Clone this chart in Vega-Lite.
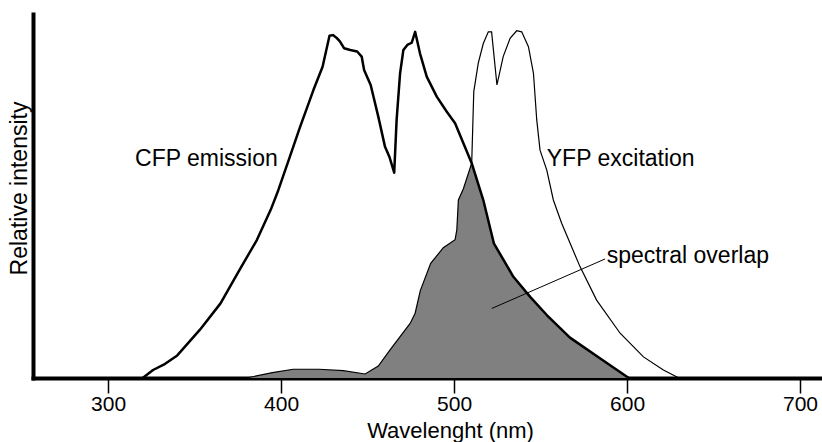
{
  "$schema": "https://vega.github.io/schema/vega-lite/v6.json",
  "width": 789,
  "height": 364,
  "autosize": "none",
  "padding": {"left": 33, "top": 14, "right": 0, "bottom": 64},
  "background": "white",
  "config": {
    "view": {"stroke": null},
    "font": "Liberation Sans",
    "axis": {"grid": false, "domainColor": "black", "domainWidth": 4, "domainCap": "square", "titleFont": "Liberation Sans", "titleFontWeight": "normal", "titleColor": "black", "titleFontSize": 22, "labelFont": "Liberation Sans", "labelColor": "black", "labelFontSize": 21}
  },
  "datasets": {
    "spectra": [
      {"series": "CFP", "wavelength": 320, "intensity": 0},
      {"series": "CFP", "wavelength": 326, "intensity": 0.022},
      {"series": "CFP", "wavelength": 333, "intensity": 0.039},
      {"series": "CFP", "wavelength": 340, "intensity": 0.062},
      {"series": "CFP", "wavelength": 353, "intensity": 0.132},
      {"series": "CFP", "wavelength": 365, "intensity": 0.205},
      {"series": "CFP", "wavelength": 376, "intensity": 0.297},
      {"series": "CFP", "wavelength": 386, "intensity": 0.379},
      {"series": "CFP", "wavelength": 394, "intensity": 0.462},
      {"series": "CFP", "wavelength": 398.4, "intensity": 0.516},
      {"series": "CFP", "wavelength": 405, "intensity": 0.607},
      {"series": "CFP", "wavelength": 411, "intensity": 0.69},
      {"series": "CFP", "wavelength": 418.7, "intensity": 0.791},
      {"series": "CFP", "wavelength": 424, "intensity": 0.855},
      {"series": "CFP", "wavelength": 428, "intensity": 0.94},
      {"series": "CFP", "wavelength": 430, "intensity": 0.942},
      {"series": "CFP", "wavelength": 432, "intensity": 0.935},
      {"series": "CFP", "wavelength": 434, "intensity": 0.925},
      {"series": "CFP", "wavelength": 436.4, "intensity": 0.906},
      {"series": "CFP", "wavelength": 440, "intensity": 0.901},
      {"series": "CFP", "wavelength": 444, "intensity": 0.897},
      {"series": "CFP", "wavelength": 446.6, "intensity": 0.883},
      {"series": "CFP", "wavelength": 448, "intensity": 0.846},
      {"series": "CFP", "wavelength": 451.8, "intensity": 0.805},
      {"series": "CFP", "wavelength": 456.2, "intensity": 0.718},
      {"series": "CFP", "wavelength": 460.1, "intensity": 0.635},
      {"series": "CFP", "wavelength": 462.6, "intensity": 0.608},
      {"series": "CFP", "wavelength": 465.4, "intensity": 0.564},
      {"series": "CFP", "wavelength": 466.8, "intensity": 0.709},
      {"series": "CFP", "wavelength": 468.8, "intensity": 0.837},
      {"series": "CFP", "wavelength": 470.7, "intensity": 0.901},
      {"series": "CFP", "wavelength": 473, "intensity": 0.915},
      {"series": "CFP", "wavelength": 475.5, "intensity": 0.921},
      {"series": "CFP", "wavelength": 477.5, "intensity": 0.951},
      {"series": "CFP", "wavelength": 480.3, "intensity": 0.892},
      {"series": "CFP", "wavelength": 484.2, "intensity": 0.828},
      {"series": "CFP", "wavelength": 490, "intensity": 0.773},
      {"series": "CFP", "wavelength": 495.7, "intensity": 0.732},
      {"series": "CFP", "wavelength": 500.6, "intensity": 0.7},
      {"series": "CFP", "wavelength": 505.4, "intensity": 0.645},
      {"series": "CFP", "wavelength": 510.2, "intensity": 0.59},
      {"series": "CFP", "wavelength": 516.9, "intensity": 0.489},
      {"series": "CFP", "wavelength": 523, "intensity": 0.37},
      {"series": "CFP", "wavelength": 534.3, "intensity": 0.278},
      {"series": "CFP", "wavelength": 544, "intensity": 0.223},
      {"series": "CFP", "wavelength": 553.6, "intensity": 0.173},
      {"series": "CFP", "wavelength": 567, "intensity": 0.111},
      {"series": "CFP", "wavelength": 586, "intensity": 0.049},
      {"series": "CFP", "wavelength": 601, "intensity": 0},
      {"series": "YFP", "wavelength": 380, "intensity": 0},
      {"series": "YFP", "wavelength": 395, "intensity": 0.015},
      {"series": "YFP", "wavelength": 407, "intensity": 0.024},
      {"series": "YFP", "wavelength": 422, "intensity": 0.024},
      {"series": "YFP", "wavelength": 436, "intensity": 0.02},
      {"series": "YFP", "wavelength": 448.6, "intensity": 0.011},
      {"series": "YFP", "wavelength": 456.2, "intensity": 0.033},
      {"series": "YFP", "wavelength": 463, "intensity": 0.077},
      {"series": "YFP", "wavelength": 474.6, "intensity": 0.15},
      {"series": "YFP", "wavelength": 477.5, "intensity": 0.178},
      {"series": "YFP", "wavelength": 480.5, "intensity": 0.24},
      {"series": "YFP", "wavelength": 486.5, "intensity": 0.315},
      {"series": "YFP", "wavelength": 493.8, "intensity": 0.358},
      {"series": "YFP", "wavelength": 500.6, "intensity": 0.38},
      {"series": "YFP", "wavelength": 501.6, "intensity": 0.407},
      {"series": "YFP", "wavelength": 502.5, "intensity": 0.489},
      {"series": "YFP", "wavelength": 505.4, "intensity": 0.52},
      {"series": "YFP", "wavelength": 510.2, "intensity": 0.59},
      {"series": "YFP", "wavelength": 511.4, "intensity": 0.787},
      {"series": "YFP", "wavelength": 514, "intensity": 0.865},
      {"series": "YFP", "wavelength": 516.9, "intensity": 0.919},
      {"series": "YFP", "wavelength": 519.8, "intensity": 0.951},
      {"series": "YFP", "wavelength": 521.7, "intensity": 0.951},
      {"series": "YFP", "wavelength": 524.8, "intensity": 0.805},
      {"series": "YFP", "wavelength": 528.4, "intensity": 0.883},
      {"series": "YFP", "wavelength": 532.4, "intensity": 0.933},
      {"series": "YFP", "wavelength": 536.2, "intensity": 0.954},
      {"series": "YFP", "wavelength": 539.1, "intensity": 0.951},
      {"series": "YFP", "wavelength": 543, "intensity": 0.91},
      {"series": "YFP", "wavelength": 545.9, "intensity": 0.837},
      {"series": "YFP", "wavelength": 547.8, "intensity": 0.709},
      {"series": "YFP", "wavelength": 549.7, "intensity": 0.626},
      {"series": "YFP", "wavelength": 553.6, "intensity": 0.571},
      {"series": "YFP", "wavelength": 557.4, "intensity": 0.489},
      {"series": "YFP", "wavelength": 562.2, "intensity": 0.425},
      {"series": "YFP", "wavelength": 572.8, "intensity": 0.306},
      {"series": "YFP", "wavelength": 582.4, "intensity": 0.214},
      {"series": "YFP", "wavelength": 596, "intensity": 0.123},
      {"series": "YFP", "wavelength": 609.5, "intensity": 0.058},
      {"series": "YFP", "wavelength": 621, "intensity": 0.022},
      {"series": "YFP", "wavelength": 630, "intensity": 0},
      {"series": "overlap", "wavelength": 380, "intensity": 0},
      {"series": "overlap", "wavelength": 395, "intensity": 0.015},
      {"series": "overlap", "wavelength": 407, "intensity": 0.024},
      {"series": "overlap", "wavelength": 422, "intensity": 0.024},
      {"series": "overlap", "wavelength": 436, "intensity": 0.02},
      {"series": "overlap", "wavelength": 448.6, "intensity": 0.011},
      {"series": "overlap", "wavelength": 456.2, "intensity": 0.033},
      {"series": "overlap", "wavelength": 463, "intensity": 0.077},
      {"series": "overlap", "wavelength": 474.6, "intensity": 0.15},
      {"series": "overlap", "wavelength": 477.5, "intensity": 0.178},
      {"series": "overlap", "wavelength": 480.5, "intensity": 0.24},
      {"series": "overlap", "wavelength": 486.5, "intensity": 0.315},
      {"series": "overlap", "wavelength": 493.8, "intensity": 0.358},
      {"series": "overlap", "wavelength": 500.6, "intensity": 0.38},
      {"series": "overlap", "wavelength": 501.6, "intensity": 0.407},
      {"series": "overlap", "wavelength": 502.5, "intensity": 0.489},
      {"series": "overlap", "wavelength": 505.4, "intensity": 0.52},
      {"series": "overlap", "wavelength": 510.2, "intensity": 0.59},
      {"series": "overlap", "wavelength": 516.9, "intensity": 0.489},
      {"series": "overlap", "wavelength": 523, "intensity": 0.37},
      {"series": "overlap", "wavelength": 534.3, "intensity": 0.278},
      {"series": "overlap", "wavelength": 544, "intensity": 0.223},
      {"series": "overlap", "wavelength": 553.6, "intensity": 0.173},
      {"series": "overlap", "wavelength": 567, "intensity": 0.111},
      {"series": "overlap", "wavelength": 586, "intensity": 0.049},
      {"series": "overlap", "wavelength": 601, "intensity": 0}
    ],
    "notes": [
      {"label": "CFP emission", "wavelength": 315.6, "intensity": 0.583},
      {"label": "YFP excitation", "wavelength": 553.6, "intensity": 0.583},
      {"label": "spectral overlap", "wavelength": 588.2, "intensity": 0.315}
    ],
    "leader": [
      {"wavelength": 521.8, "intensity": 0.191, "wavelength2": 587.3, "intensity2": 0.327}
    ]
  },
  "layer": [
    {
      "data": {"name": "spectra"},
      "transform": [{"filter": "datum.series === 'overlap'"}],
      "mark": {"type": "area", "color": "#808080", "opacity": 1},
      "encoding": {
        "x": {"field": "wavelength", "type": "quantitative", "scale": {"domain": [256.6, 712.7], "nice": false, "zero": false},
          "axis": {"values": [300, 400, 500, 600, 700], "tickColor": "black", "tickWidth": 1.5, "tickSize": 15, "labelPadding": 0, "title": "Wavelenght (nm)", "titleX": 417, "titleY": 59, "titleBaseline": "alphabetic", "titleAnchor": "middle", "titleAlign": "center"}},
        "y": {"field": "intensity", "type": "quantitative", "scale": {"domain": [0, 1], "nice": false},
          "axis": {"ticks": false, "labels": false, "title": "Relative intensity", "titleFontSize": 23, "titlePadding": 2, "titleY": 174}}
      }
    },
    {
      "data": {"name": "spectra"},
      "transform": [{"filter": "datum.series === 'YFP'"}],
      "mark": {"type": "line", "color": "black", "strokeWidth": 1.2},
      "encoding": {
        "x": {"field": "wavelength", "type": "quantitative"},
        "y": {"field": "intensity", "type": "quantitative"}
      }
    },
    {
      "data": {"name": "spectra"},
      "transform": [{"filter": "datum.series === 'CFP'"}],
      "mark": {"type": "line", "color": "black", "strokeWidth": 2.5, "strokeJoin": "round"},
      "encoding": {
        "x": {"field": "wavelength", "type": "quantitative"},
        "y": {"field": "intensity", "type": "quantitative"}
      }
    },
    {
      "data": {"name": "leader"},
      "mark": {"type": "rule", "color": "black", "strokeWidth": 1},
      "encoding": {
        "x": {"field": "wavelength", "type": "quantitative"},
        "y": {"field": "intensity", "type": "quantitative"},
        "x2": {"field": "wavelength2"},
        "y2": {"field": "intensity2"}
      }
    },
    {
      "data": {"name": "notes"},
      "mark": {"type": "text", "align": "left", "baseline": "alphabetic", "fontSize": 23, "font": "Liberation Sans", "color": "black"},
      "encoding": {
        "x": {"field": "wavelength", "type": "quantitative"},
        "y": {"field": "intensity", "type": "quantitative"},
        "text": {"field": "label"}
      }
    }
  ]
}
